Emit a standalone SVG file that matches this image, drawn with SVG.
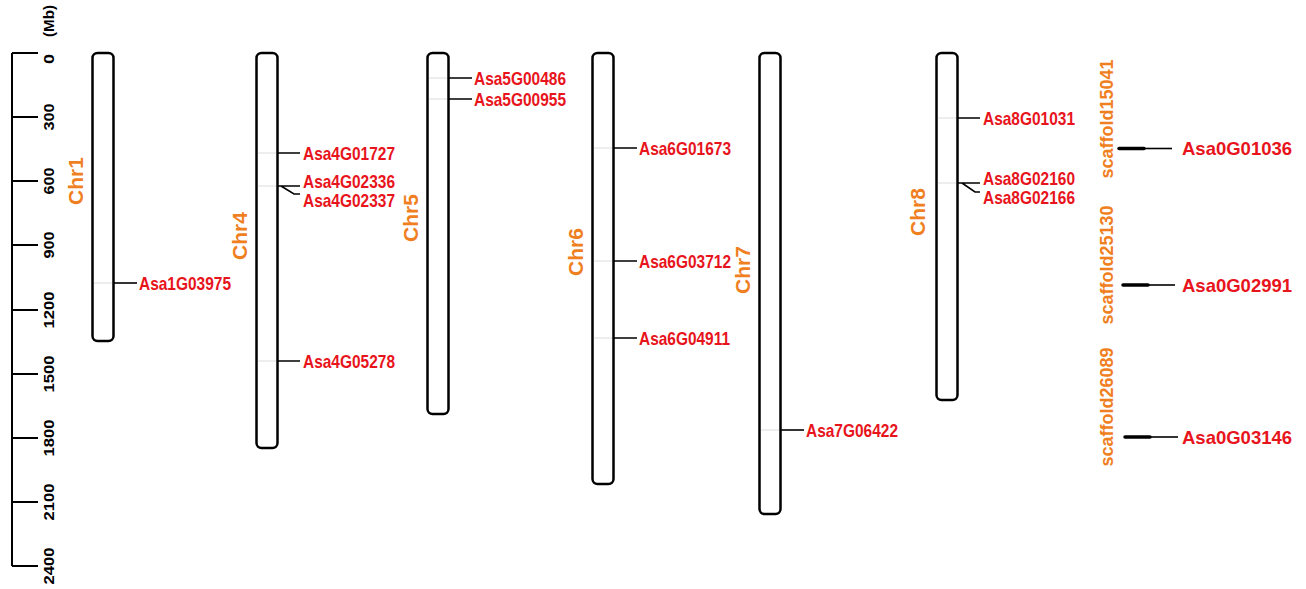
<svg xmlns="http://www.w3.org/2000/svg" width="1306" height="589" viewBox="0 0 1306 589">
<style>
.chr{fill:#fff;stroke:#000;stroke-width:2.5}
.ax{stroke:#000;stroke-width:2;fill:none}
.axt{font-family:"Liberation Sans",Arial,sans-serif;font-weight:bold;font-size:14px;fill:#000;text-anchor:middle}
.cl{font-family:"Liberation Sans",Arial,sans-serif;font-weight:bold;font-size:21px;fill:#F07F22;text-anchor:middle}
.sl{font-family:"Liberation Sans",Arial,sans-serif;font-weight:bold;font-size:18px;fill:#F07F22;text-anchor:middle}
.gl{font-family:"Liberation Sans",Arial,sans-serif;font-weight:bold;font-size:18.5px;fill:#E8141C}
.gs{font-family:"Liberation Sans",Arial,sans-serif;font-weight:bold;font-size:18.5px;fill:#E8141C}
.in{stroke:#dcdcdc;stroke-width:1}
.ln{stroke:#000;stroke-width:1.6;fill:none}
.thk{stroke:#000;stroke-width:3.5;stroke-linecap:round}
</style>
<g id="axis">
<path class="ax" d="M12,53 V566 M12,53 H38 M12,117 H38 M12,181 H38 M12,245 H38 M12,310 H38 M12,374 H38 M12,438 H38 M12,502 H38 M12,566 H38"/>
<text class="axt" style="text-anchor:start" transform="translate(54,64) rotate(-90)"><tspan textLength="10" lengthAdjust="spacingAndGlyphs">0</tspan><tspan dx="17" textLength="32" lengthAdjust="spacingAndGlyphs">(Mb)</tspan></text>
<text class="axt" transform="translate(54,117) rotate(-90)" textLength="27" lengthAdjust="spacingAndGlyphs">300</text>
<text class="axt" transform="translate(54,181) rotate(-90)" textLength="27" lengthAdjust="spacingAndGlyphs">600</text>
<text class="axt" transform="translate(54,245) rotate(-90)" textLength="27" lengthAdjust="spacingAndGlyphs">900</text>
<text class="axt" transform="translate(54,310) rotate(-90)" textLength="37" lengthAdjust="spacingAndGlyphs">1200</text>
<text class="axt" transform="translate(54,374) rotate(-90)" textLength="37" lengthAdjust="spacingAndGlyphs">1500</text>
<text class="axt" transform="translate(54,438) rotate(-90)" textLength="37" lengthAdjust="spacingAndGlyphs">1800</text>
<text class="axt" transform="translate(54,502) rotate(-90)" textLength="37" lengthAdjust="spacingAndGlyphs">2100</text>
<text class="axt" transform="translate(54,566) rotate(-90)" textLength="37" lengthAdjust="spacingAndGlyphs">2400</text>
</g>
<g id="chr1">
<rect class="chr" x="92.5" y="53" width="21" height="288" rx="5"/>
<line class="in" x1="94" y1="283" x2="112" y2="283"/>
<text class="cl" transform="translate(83,181) rotate(-90)">Chr1</text>
<text class="gl" x="139" y="290" textLength="92" lengthAdjust="spacingAndGlyphs">Asa1G03975</text>
</g>
<g id="chr4">
<rect class="chr" x="256.5" y="53" width="21" height="395" rx="5"/>
<line class="in" x1="258" y1="153" x2="276" y2="153"/>
<line class="in" x1="258" y1="186" x2="276" y2="186"/>
<line class="in" x1="258" y1="361" x2="276" y2="361"/>
<text class="cl" transform="translate(247,236) rotate(-90)">Chr4</text>
<text class="gl" x="303" y="160" textLength="92" lengthAdjust="spacingAndGlyphs">Asa4G01727</text>
<text class="gl" x="303" y="188" textLength="92" lengthAdjust="spacingAndGlyphs">Asa4G02336</text>
<text class="gl" x="303" y="207" textLength="92" lengthAdjust="spacingAndGlyphs">Asa4G02337</text>
<text class="gl" x="303" y="368" textLength="92" lengthAdjust="spacingAndGlyphs">Asa4G05278</text>
</g>
<g id="chr5">
<rect class="chr" x="427.5" y="53" width="21" height="361" rx="5"/>
<line class="in" x1="429" y1="78" x2="447" y2="78"/>
<line class="in" x1="429" y1="99" x2="447" y2="99"/>
<text class="cl" transform="translate(418,218) rotate(-90)">Chr5</text>
<text class="gl" x="474" y="85" textLength="92" lengthAdjust="spacingAndGlyphs">Asa5G00486</text>
<text class="gl" x="474" y="106" textLength="92" lengthAdjust="spacingAndGlyphs">Asa5G00955</text>
</g>
<g id="chr6">
<rect class="chr" x="592.5" y="53" width="21" height="431" rx="5"/>
<line class="in" x1="594" y1="148" x2="612" y2="148"/>
<line class="in" x1="594" y1="261" x2="612" y2="261"/>
<line class="in" x1="594" y1="338" x2="612" y2="338"/>
<text class="cl" transform="translate(583,252) rotate(-90)">Chr6</text>
<text class="gl" x="639" y="155" textLength="92" lengthAdjust="spacingAndGlyphs">Asa6G01673</text>
<text class="gl" x="639" y="268" textLength="92" lengthAdjust="spacingAndGlyphs">Asa6G03712</text>
<text class="gl" x="639" y="345" textLength="91" lengthAdjust="spacingAndGlyphs">Asa6G04911</text>
</g>
<g id="chr7">
<rect class="chr" x="759.5" y="53" width="21" height="461" rx="5"/>
<line class="in" x1="761" y1="430" x2="779" y2="430"/>
<text class="cl" transform="translate(750,270) rotate(-90)">Chr7</text>
<text class="gl" x="806" y="437" textLength="92" lengthAdjust="spacingAndGlyphs">Asa7G06422</text>
</g>
<g id="chr8">
<rect class="chr" x="936.5" y="53" width="21" height="347" rx="5"/>
<line class="in" x1="938" y1="118" x2="956" y2="118"/>
<line class="in" x1="938" y1="183" x2="956" y2="183"/>
<text class="cl" transform="translate(925,212) rotate(-90)">Chr8</text>
<text class="gl" x="983" y="125" textLength="92" lengthAdjust="spacingAndGlyphs">Asa8G01031</text>
<text class="gl" x="983" y="185" textLength="92" lengthAdjust="spacingAndGlyphs">Asa8G02160</text>
<text class="gl" x="983" y="204" textLength="92" lengthAdjust="spacingAndGlyphs">Asa8G02166</text>
</g>
<g id="scaffold15041">
<text class="sl" transform="translate(1113,119) rotate(-90)">scaffold15041</text>
<text class="gs" x="1182" y="155">Asa0G01036</text>
</g>
<g id="scaffold25130">
<text class="sl" transform="translate(1113,265) rotate(-90)">scaffold25130</text>
<text class="gs" x="1182" y="292">Asa0G02991</text>
</g>
<g id="scaffold26089">
<text class="sl" transform="translate(1113,407) rotate(-90)">scaffold26089</text>
<text class="gs" x="1182" y="444">Asa0G03146</text>
</g>
<g id="connectors">
<path class="ln" d="M113.5,283 H137"/>
<path class="ln" d="M277.5,153 H300 M277.5,186 H300 M281,186 L294,194 H300 M277.5,361 H300"/>
<path class="ln" d="M448.5,78 H472 M448.5,99 H472"/>
<path class="ln" d="M613.5,148 H637 M613.5,261 H637 M613.5,338 H637"/>
<path class="ln" d="M780.5,430 H804"/>
<path class="ln" d="M957.5,118 H980 M957.5,183 H980 M962,183 L975,192 H980"/>
<line class="thk" x1="1119" y1="148.5" x2="1144" y2="148.5"/>
<path class="ln" d="M1140,148.5 H1172"/>
<line class="thk" x1="1123" y1="285" x2="1148" y2="285"/>
<path class="ln" d="M1144,285 H1175"/>
<line class="thk" x1="1125" y1="437" x2="1150" y2="437"/>
<path class="ln" d="M1146,437 H1178"/>
</g>
</svg>
